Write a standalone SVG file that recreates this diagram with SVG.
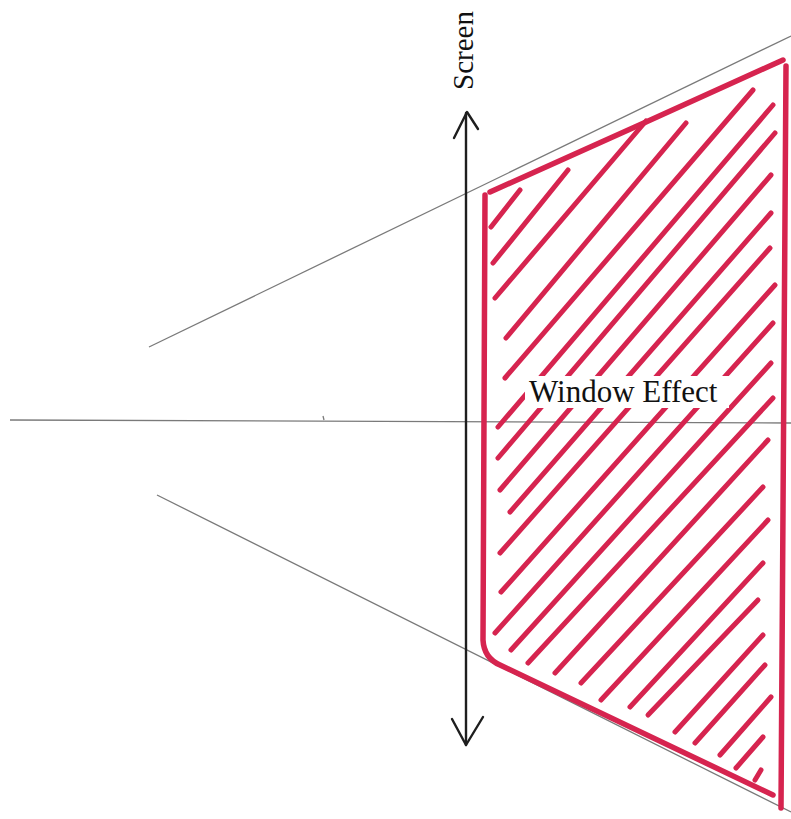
<svg xmlns="http://www.w3.org/2000/svg" width="791" height="819" viewBox="0 0 791 819">
<style>
.guide{stroke:#7a7a7a;stroke-width:1.3;fill:none}
.red{stroke:#d6244f;stroke-width:5.5;stroke-linecap:round;stroke-linejoin:round;fill:none}
.hatch{stroke:#d6244f;stroke-width:5;stroke-linecap:round;fill:none}
.ink{stroke:#1e1e1e;stroke-width:2.4;stroke-linecap:round;stroke-linejoin:round;fill:none}
.txt{font-family:"Liberation Serif","Times New Roman",serif;fill:#111}
</style>
<rect width="791" height="819" fill="#ffffff"/>
<g id="connectors">
  <line class="guide" x1="149" y1="347" x2="791" y2="36"/>
  <line class="guide" x1="10" y1="420" x2="791" y2="423" stroke="#666"/>
  <line class="guide" x1="323" y1="416" x2="324" y2="420"/>
  <line class="guide" x1="157" y1="495" x2="791" y2="812"/>
</g>
<g id="window">
  <g id="hatching">
    <line class="hatch" x1="491" y1="227" x2="520" y2="190"/>
    <line class="hatch" x1="493" y1="263" x2="568" y2="170"/>
    <line class="hatch" x1="495" y1="298" x2="646" y2="121"/>
    <line class="hatch" x1="506" y1="338" x2="686" y2="123"/>
    <line class="hatch" x1="505" y1="378" x2="753" y2="90"/>
    <line class="hatch" x1="498" y1="427" x2="773" y2="105"/>
    <line class="hatch" x1="498" y1="458" x2="775" y2="133"/>
    <line class="hatch" x1="500" y1="490" x2="771" y2="175"/>
    <line class="hatch" x1="510" y1="512" x2="771" y2="213"/>
    <line class="hatch" x1="500" y1="553" x2="770" y2="248"/>
    <line class="hatch" x1="501" y1="592" x2="775" y2="285"/>
    <line class="hatch" x1="495" y1="633" x2="773" y2="323"/>
    <line class="hatch" x1="511" y1="650" x2="771" y2="363"/>
    <line class="hatch" x1="528" y1="663" x2="773" y2="398"/>
    <line class="hatch" x1="555" y1="673" x2="768" y2="440"/>
    <line class="hatch" x1="581" y1="683" x2="763" y2="487"/>
    <line class="hatch" x1="601" y1="700" x2="768" y2="520"/>
    <line class="hatch" x1="630" y1="707" x2="763" y2="563"/>
    <line class="hatch" x1="648" y1="715" x2="758" y2="600"/>
    <line class="hatch" x1="675" y1="732" x2="763" y2="635"/>
    <line class="hatch" x1="695" y1="743" x2="765" y2="665"/>
    <line class="hatch" x1="720" y1="755" x2="771" y2="697"/>
    <line class="hatch" x1="736" y1="768" x2="763" y2="737"/>
    <line class="hatch" x1="755" y1="780" x2="761" y2="770"/>
  </g>
  <path class="red" d="M490,192 L646,122 L783,60"/>
  <path class="red" d="M485,195 L483,640 Q484,658 500,665 L773,795"/>
  <path class="red" d="M786,66 L781,808"/>
</g>
<g id="screen">
  <line class="ink" x1="466" y1="113" x2="466" y2="745"/>
  <polyline class="ink" points="454,138 467,112 478,129"/>
  <polyline class="ink" points="452,719 466,745 483,717"/>
  <text class="txt" font-size="29" transform="translate(473,90) rotate(-90)">Screen</text>
</g>
<g id="label">
  <rect x="525" y="376" width="204" height="32" fill="#ffffff"/>
  <text class="txt" x="529" y="402" font-size="31">Window Effect</text>
</g>
</svg>
